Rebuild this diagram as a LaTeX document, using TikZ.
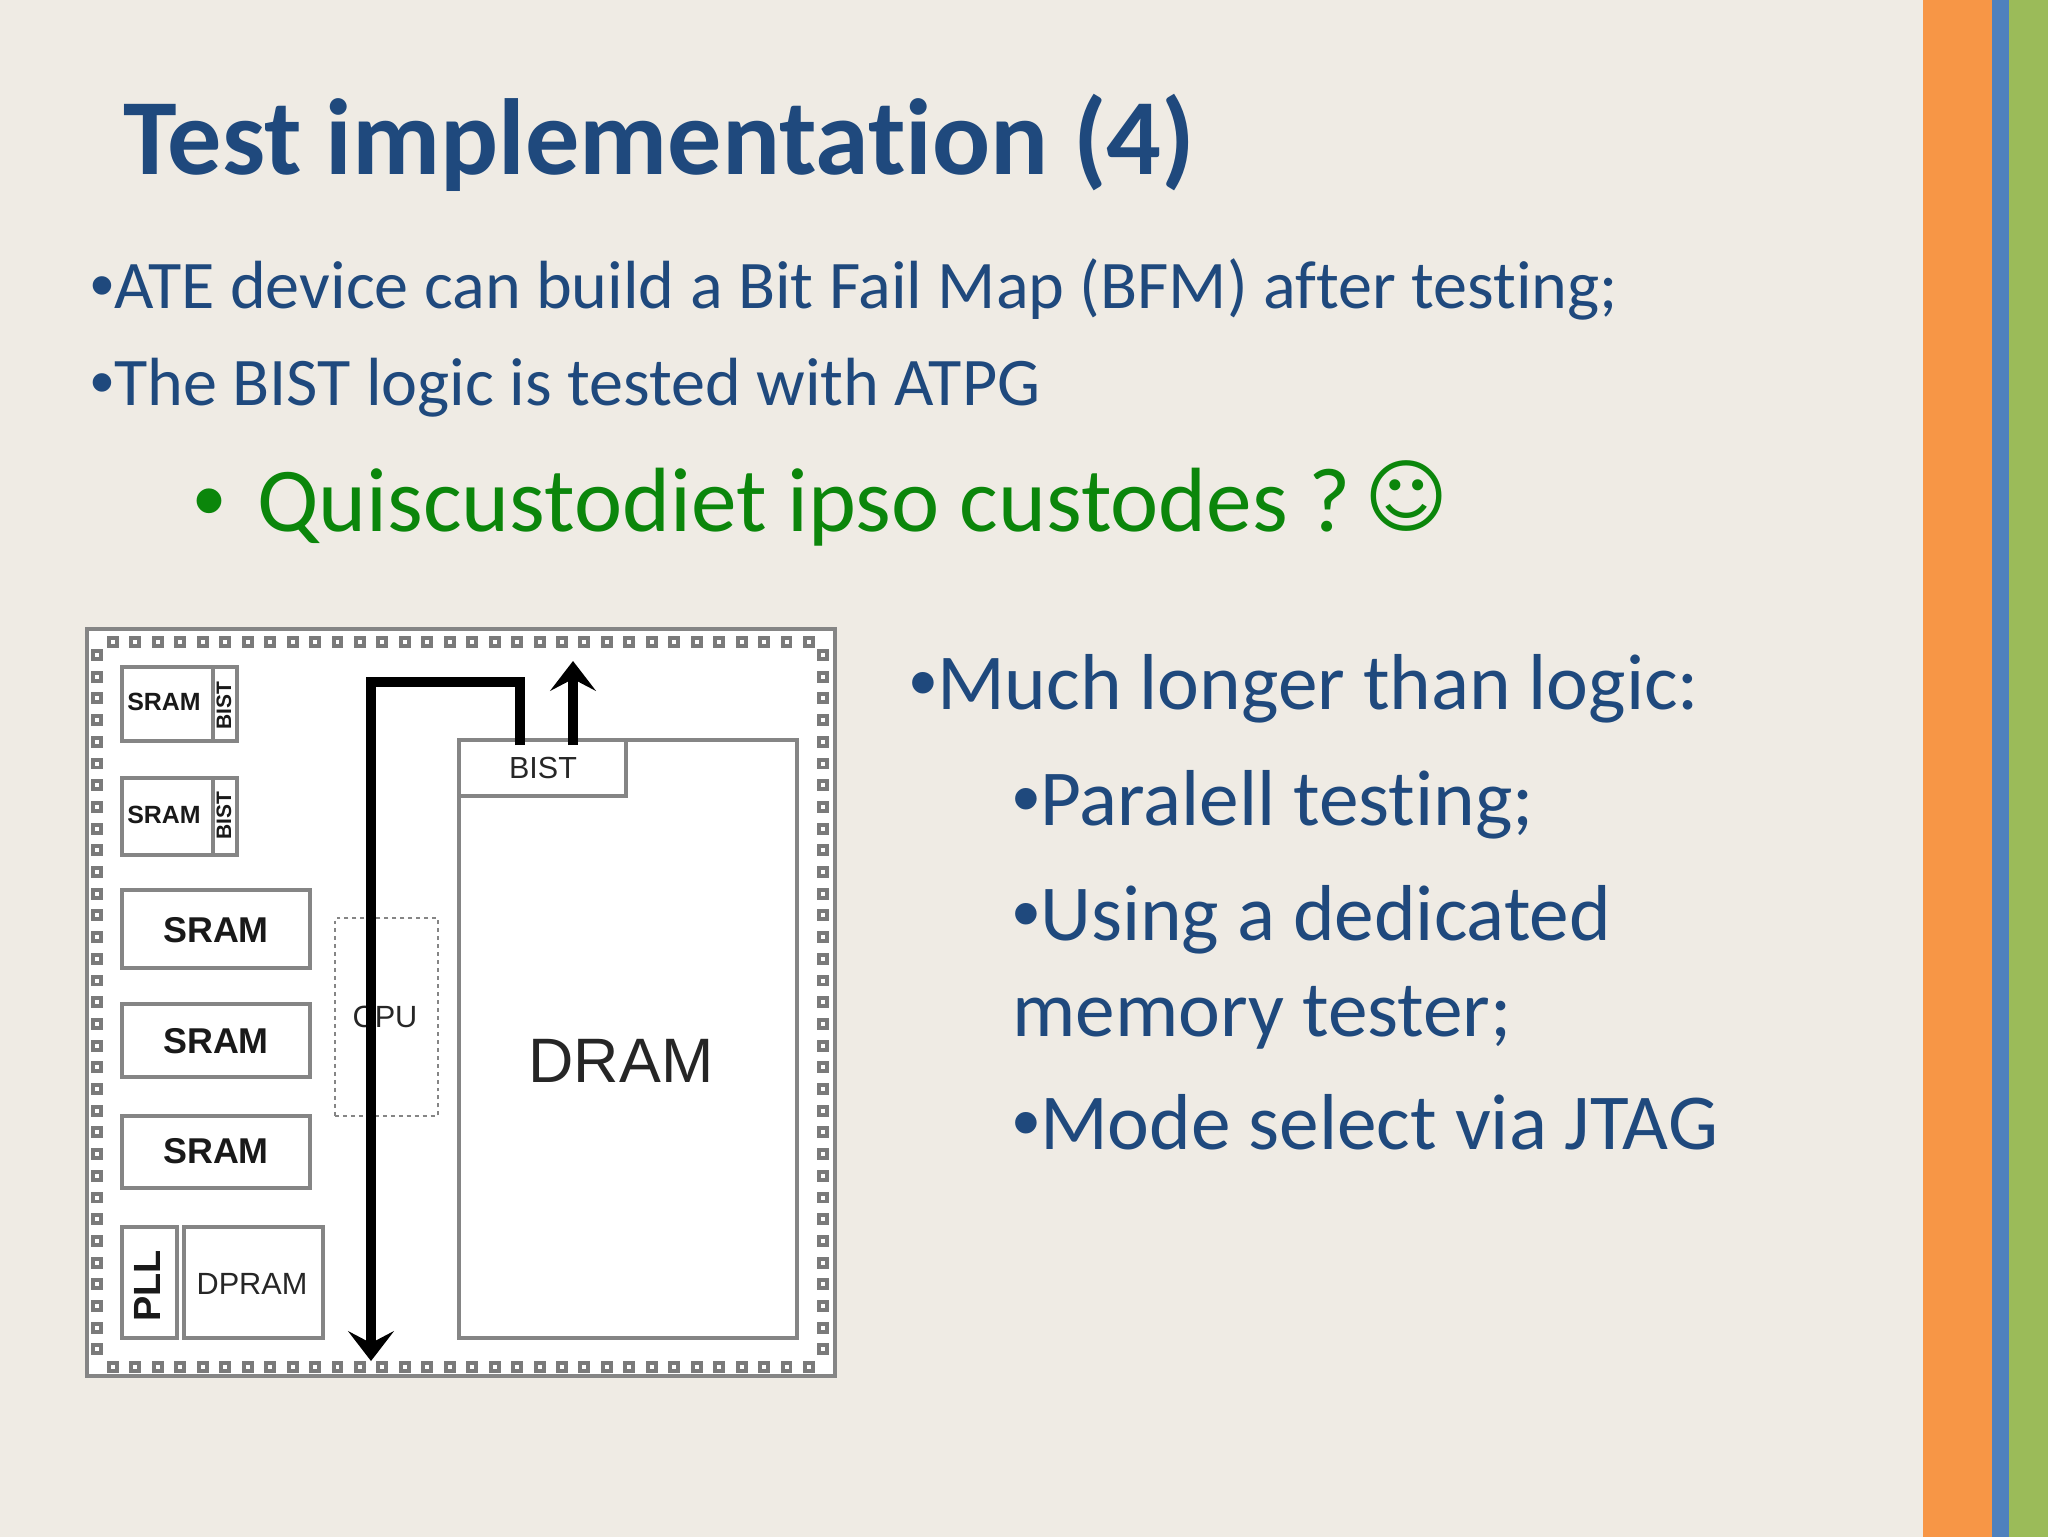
\documentclass[tikz,border=0pt]{standalone}
\usepackage{fontspec}
\setmainfont[Ligatures=NoCommon]{Carlito}
\newfontfamily\diagfont{Liberation Sans}
\newfontfamily\symfont{DejaVu Sans}
\usetikzlibrary{arrows.meta,calc}
\definecolor{slidebg}{HTML}{EFEBE4}
\definecolor{titleblue}{HTML}{1F497D}
\definecolor{quisgreen}{HTML}{0B860B}
\definecolor{stripor}{HTML}{F79646}
\definecolor{stripbl}{HTML}{4F81BD}
\definecolor{stripgr}{HTML}{9BBB59}
\definecolor{chipline}{HTML}{858585}
\definecolor{padgray}{HTML}{7A7A7A}
\newcommand{\blt}{{\diagfont •}}
\tikzset{
  titletext/.style={anchor=base west,inner sep=0pt,text=titleblue,font=\fontsize{54.3}{54.3}\selectfont\bfseries},
  bodytext/.style={anchor=base west,inner sep=0pt,text=titleblue,font=\fontsize{34.2}{34.2}\selectfont},
  bigbody/.style={anchor=base west,inner sep=0pt,text=titleblue,font=\fontsize{39.8}{39.8}\selectfont},
  quistext/.style={anchor=base west,inner sep=0pt,text=quisgreen,font=\fontsize{45.8}{45.8}\selectfont},
  chipbox/.style={draw=chipline,line width=1.6pt,fill=white,inner sep=0pt,outer sep=0pt,text=black!85},
  dashbox/.style={draw=chipline,line width=1.4pt,dash pattern=on 2pt off 2pt,inner sep=0pt,outer sep=0pt},
  chiplabel/.style={inner sep=0pt,text=black!85,font=\diagfont\fontsize{#1}{#1}\selectfont},
  chipbold/.style={inner sep=0pt,text=black!90,font=\diagfont\bfseries\fontsize{#1}{#1}\selectfont},
  padbox/.style={draw=padgray,line width=2pt,fill=white,minimum size=4pt,inner sep=0pt,outer sep=0pt},
  busline/.style={line width=5.5pt,black,line join=miter},
  bushead/.style={-{Stealth[length=15pt,width=23pt,inset=6pt]}},
}
% name, x1, y1, x2, y2, style
\newcommand{\chipnode}[6]{%
  \node[#6,minimum width={(#4-#2)*0.5bp},minimum height={(#5-#3)*0.5bp},anchor=north west] (#1) at (#2,#3) {};}
\begin{document}
\begin{tikzpicture}[x=0.5bp,y=-0.5bp]
\useasboundingbox (0,0) rectangle (2048,1536);
\fill[slidebg] (-4,-4) rectangle (2052,1540);
\fill[stripor] (1923,-4) rectangle (1992,1540);
\fill[stripbl] (1992,-4) rectangle (2009,1540);
\fill[stripgr] (2009,-4) rectangle (2052,1540);

\node[titletext] (title) at (123,174) {Test implementation (4)};
\node[bodytext] (l1) at (90,308) {\blt ATE device can build a Bit Fail Map (BFM) after testing;};
\node[bodytext] (l2) at (90,405) {\blt The BIST logic is tested with ATPG};
\node[quistext] (qb) at (193,531) {\blt};
\node[quistext] (qt) at (257,531) {Quiscustodiet ipso custodes ?};
\node[quistext,font=\symfont\fontsize{40.5}{40.5}\selectfont] (smile) at (1364,525) {☺};

\node[bigbody] (r1) at (909,709) {\blt Much longer than logic:};
\node[bigbody] (r2) at (1012,825) {\blt Paralell testing;};
\node[bigbody] (r3) at (1012,940) {\blt Using a dedicated};
\node[bigbody] (r4) at (1012,1036) {memory tester;};
\node[bigbody] (r5) at (1012,1149) {\blt Mode select via JTAG};

\chipnode{chip}{87}{629}{835}{1376}{chipbox}
\foreach \i in {0,...,31}{
  \node[padbox] (pt\i) at ({113+\i*22.45},642) {};
  \node[padbox] (pb\i) at ({113+\i*22.45},1367) {};
}
\foreach \i in {0,...,32}{
  \node[padbox] (pl\i) at (97,{655+\i*21.7}) {};
  \node[padbox] (pr\i) at (823,{655+\i*21.7}) {};
}

\chipnode{sa}{122}{667}{237}{741}{chipbox}
\chipnode{sab}{213}{667}{237}{741}{chipbox}
\chipnode{sb}{122}{778}{237}{855}{chipbox}
\chipnode{sbb}{213}{778}{237}{855}{chipbox}
\node[chipbold=12.5] at (164,702) {SRAM};
\node[chipbold=12.5] at (164,815) {SRAM};
\node[chipbold=10.5,rotate=90] at (224,706) {BIST};
\node[chipbold=10.5,rotate=90] at (224,816) {BIST};

\chipnode{sc}{122}{890}{310}{968}{chipbox}
\chipnode{sd}{122}{1004}{310}{1077}{chipbox}
\chipnode{se}{122}{1116}{310}{1188}{chipbox}
\node[chipbold=18] at (216,930) {SRAM};
\node[chipbold=18] at (216,1041) {SRAM};
\node[chipbold=18] at (216,1151) {SRAM};

\chipnode{pll}{122}{1227}{177}{1338}{chipbox}
\chipnode{dpram}{184}{1227}{323}{1338}{chipbox}
\node[chipbold=19,rotate=90] at (147,1286) {PLL};
\node[chiplabel=15.4] at (252,1284) {DPRAM};

\chipnode{cpu}{335}{918}{438}{1116}{dashbox}
\node[chiplabel=15.4] at (385,1017) {CPU};

\chipnode{dram}{459}{740}{797}{1338}{chipbox}
\chipnode{bist}{459}{740}{626}{796}{chipbox}
\node[chiplabel=15.3] at (543,768) {BIST};
\node[chiplabel=31.5] at (621,1061) {DRAM};

\coordinate (busin) at (520,745);
\coordinate (busout) at (573,745);
\coordinate (upend) at (573,661);
\coordinate (downend) at (371,1361);
\draw[busline,bushead] (busin) -- (520,682) -- (371,682) -- (downend);
\draw[busline,bushead] (busout) -- (upend);
\end{tikzpicture}
\end{document}
